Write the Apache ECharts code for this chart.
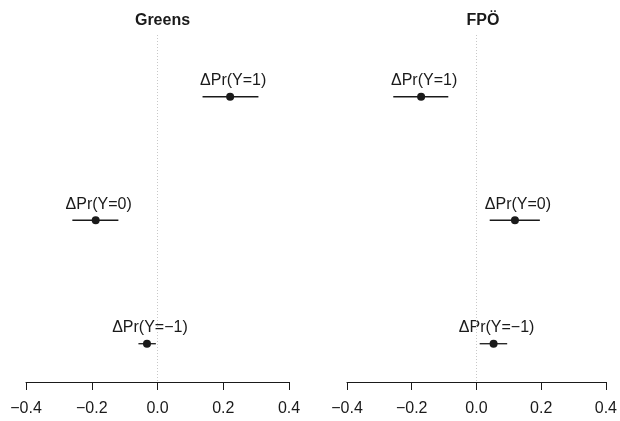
<!DOCTYPE html>
<html>
<head>
<meta charset="utf-8">
<script src="https://cdn.jsdelivr.net/npm/echarts@6/dist/echarts.min.js"></script>
<style>
  html, body { margin: 0; padding: 0; background: #fff; }
  #chart { width: 620px; height: 421px; }
</style>
</head>
<body>
<div id="chart"></div>
<script>
  // effect labels, top to bottom
  const CATEGORIES = ['ΔPr(Y=1)', 'ΔPr(Y=0)', 'ΔPr(Y=−1)']
  const PANELS = ['Greens', 'FPÖ']
  const X_TICKS = [-0.4, -0.2, 0, 0.2, 0.4]

  // point estimates and interval bounds
  const GREENS_EST = [0.221, -0.188, -0.032]
  const GREENS_LO = [0.137, -0.259, -0.058]
  const GREENS_HI = [0.307, -0.119, -0.005]

  const FPO_EST = [-0.171, 0.119, 0.053]
  const FPO_LO = [-0.257, 0.041, 0.010]
  const FPO_HI = [-0.087, 0.196, 0.095]

  const INK = '#1a1a1a'
  const FONT = 'Liberation Sans, Arial, Helvetica, sans-serif'

  const grids = [
    { left: 26, top: 35, width: 263, height: 347 },
    { left: 347, top: 35, width: 262, height: 347 }
  ]

  function xAxisFor (i) {
    return {
      gridIndex: i,
      type: 'value',
      min: X_TICKS[0],
      max: X_TICKS[X_TICKS.length - 1],
      interval: 0.2,
      axisLine: { show: true, onZero: false, lineStyle: { color: INK, width: 1 } },
      axisTick: { show: true, length: 8, lineStyle: { color: INK, width: 1 } },
      axisLabel: {
        color: INK,
        fontSize: 16,
        fontFamily: FONT,
        margin: 19,
        formatter: v => (v < 0 ? '−' : '') + Math.abs(v).toFixed(1)
      },
      splitLine: { show: false }
    }
  }

  function yAxisFor (i) {
    return {
      gridIndex: i,
      type: 'value',
      inverse: true,
      min: -0.5,
      max: 2.31,
      show: false
    }
  }

  function intervalSeries (i, lo, hi) {
    return {
      type: 'custom',
      xAxisIndex: i,
      yAxisIndex: i,
      silent: true,
      data: lo.map((v, k) => [v, hi[k], k]),
      renderItem: function (params, api) {
        const a = api.coord([api.value(0), api.value(2)])
        const b = api.coord([api.value(1), api.value(2)])
        return {
          type: 'line',
          shape: { x1: a[0], y1: a[1], x2: b[0], y2: b[1] },
          style: { stroke: INK, lineWidth: 1.3 }
        }
      },
      markLine: {
        silent: true,
        symbol: 'none',
        label: { show: false },
        lineStyle: { color: '#c8c8c8', type: [1, 2], width: 1 },
        data: [{ xAxis: 0 }]
      }
    }
  }

  function pointSeries (i, est) {
    return {
      type: 'scatter',
      xAxisIndex: i,
      yAxisIndex: i,
      symbolSize: 8,
      itemStyle: { color: INK, opacity: 1 },
      data: est.map((v, k) => [v, k]),
      label: {
        show: true,
        position: 'top',
        distance: 4,
        offset: [3, 0],
        color: INK,
        fontSize: 16,
        fontFamily: FONT,
        formatter: p => CATEGORIES[p.data[1]]
      }
    }
  }

  const option = {
    backgroundColor: '#fff',
    animation: false,
    title: PANELS.map((name, i) => ({
      text: name,
      left: grids[i].left + grids[i].width / 2,
      top: 8,
      textAlign: 'center',
      textStyle: { color: INK, fontSize: 16, fontWeight: 'bold', fontFamily: FONT }
    })),
    grid: grids,
    xAxis: [xAxisFor(0), xAxisFor(1)],
    yAxis: [yAxisFor(0), yAxisFor(1)],
    series: [
      intervalSeries(0, GREENS_LO, GREENS_HI),
      pointSeries(0, GREENS_EST),
      intervalSeries(1, FPO_LO, FPO_HI),
      pointSeries(1, FPO_EST)
    ]
  }

  const chart = echarts.init(document.getElementById('chart'))
  chart.setOption(option)
</script>
</body>
</html>
